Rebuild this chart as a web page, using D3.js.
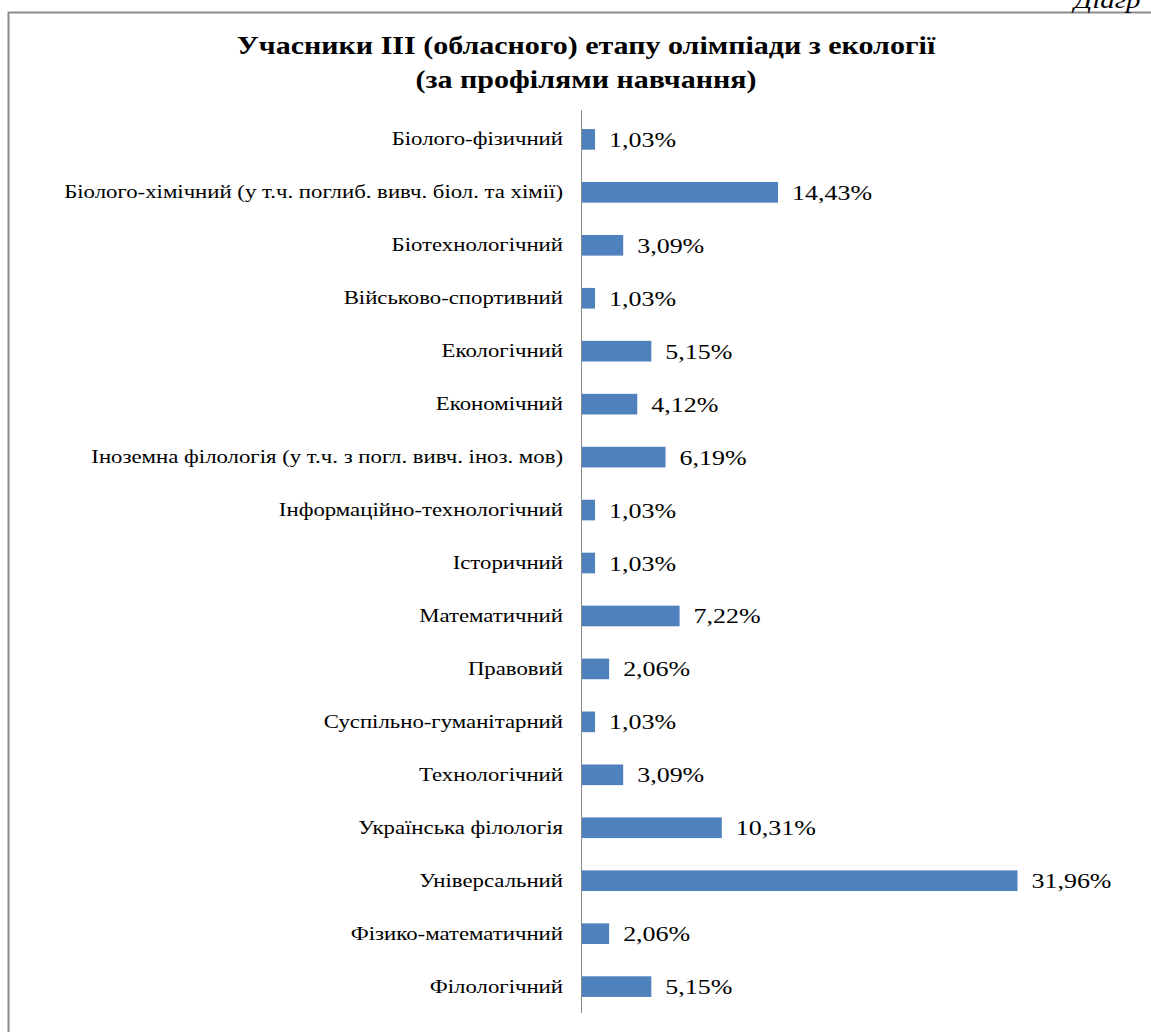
<!DOCTYPE html>
<html><head><meta charset="utf-8">
<script src="https://cdn.jsdelivr.net/npm/d3@7"></script>
<style>
html,body{margin:0;padding:0;background:#fff;}
svg{display:block;}
</style></head>
<body>
<svg id="chart" width="1151" height="1032"></svg>
<script>
const titleLines = ["Учасники III (обласного) етапу олімпіади з екології", "(за профілями навчання)"];
const categories = [
  "Біолого-фізичний",
  "Біолого-хімічний (у т.ч. поглиб. вивч. біол. та хімії)",
  "Біотехнологічний",
  "Військово-спортивний",
  "Екологічний",
  "Економічний",
  "Іноземна філологія (у т.ч. з погл. вивч. іноз. мов)",
  "Інформаційно-технологічний",
  "Історичний",
  "Математичний",
  "Правовий",
  "Суспільно-гуманітарний",
  "Технологічний",
  "Українська філологія",
  "Універсальний",
  "Фізико-математичний",
  "Філологічний"
];
const values = [1.03, 14.43, 3.09, 1.03, 5.15, 4.12, 6.19, 1.03, 1.03, 7.22, 2.06, 1.03, 3.09, 10.31, 31.96, 2.06, 5.15];
const valueLabels = ["1,03%","14,43%","3,09%","1,03%","5,15%","4,12%","6,19%","1,03%","1,03%","7,22%","2,06%","1,03%","3,09%","10,31%","31,96%","2,06%","5,15%"];

const FONT = "Liberation Serif";
const SX = 1.2; // horizontal stretch of the source picture's text
const svg = d3.select("#chart");

// outer frame
svg.append("rect").attr("x", 8.5).attr("y", 12.5).attr("width", 1160).attr("height", 1040)
  .attr("fill", "#fff").attr("stroke", "#8c8c8c").attr("stroke-width", 2);

// corner caption (cut off in the source too)
svg.append("text").attr("transform", `translate(1074,8) scale(${SX},1)`)
  .attr("font-family", FONT).attr("font-style", "italic").attr("font-size", 24)
  .attr("fill", "#000").text("Діагр");

// title
svg.append("g").selectAll("text").data(titleLines).join("text")
  .attr("transform", (d, i) => `translate(586,${54 + i * 34}) scale(${SX},1)`)
  .attr("text-anchor", "middle").attr("font-family", FONT).attr("font-weight", "bold")
  .attr("font-size", 25).attr("fill", "#000").text(d => d);

const x = d3.scaleLinear().domain([0, 35]).range([581, 581 + 478]);
const y = d3.scaleBand().domain(categories).range([110, 1016]).paddingInner(0.61).paddingOuter(0.36);

// bars
svg.append("g").selectAll("rect").data(values).join("rect")
  .attr("x", x(0)).attr("y", (d, i) => y(categories[i]))
  .attr("width", d => x(d) - x(0)).attr("height", y.bandwidth())
  .attr("fill", "#4f81bd");

// value labels
svg.append("g").selectAll("text").data(values).join("text")
  .attr("transform", (d, i) => `translate(${x(d) + 14},${y(categories[i]) + y.bandwidth() / 2 + 7.5}) scale(1.18,1)`)
  .attr("font-family", FONT).attr("font-size", 22).attr("fill", "#000")
  .text((d, i) => valueLabels[i]);

// axis with category labels
const axis = svg.append("g").attr("transform", `translate(${x(0)},0)`)
  .call(d3.axisLeft(y).tickSize(0).tickPadding(18));
axis.select(".domain").attr("stroke", "#888").attr("stroke-width", 1).attr("d", "M0.5,110V1013");
axis.selectAll(".tick text")
  .attr("font-family", FONT).attr("font-size", 19).attr("fill", "#000")
  .attr("x", -18 / SX).attr("dy", "0.32em")
  .attr("transform", `scale(${SX},1)`);
</script>
</body></html>
